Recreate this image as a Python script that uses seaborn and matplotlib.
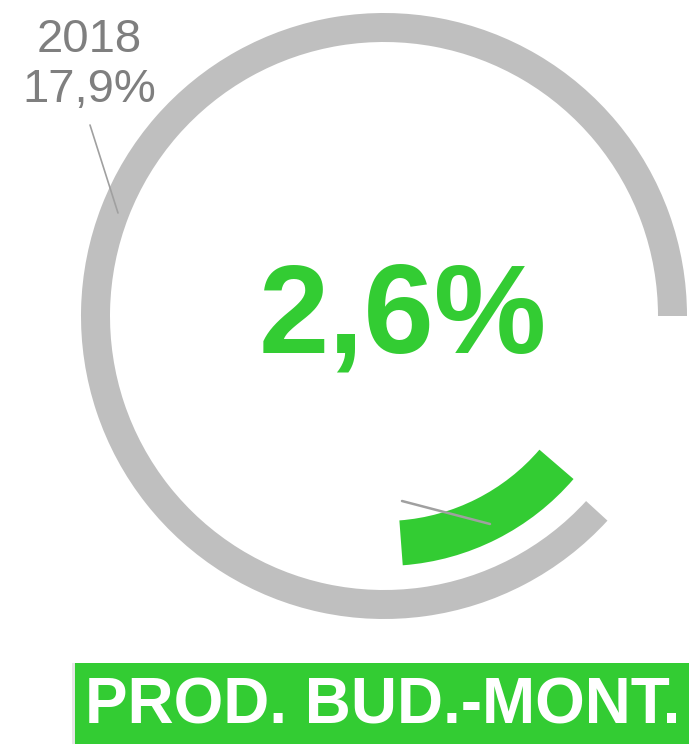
import matplotlib
matplotlib.use("Agg")
import matplotlib.pyplot as plt
import seaborn as sns
from matplotlib.patches import Rectangle

# arc shares (percent of full circle) and start angles
ring_share = [88.2, 11.8]      # gray ring (2018), rest is the gap
ring_start = 0
green_share = [12.5, 87.5]     # green arc (current), rest hidden
green_start = -85.7

label_2018 = "2018\n17,9%"
value_text = "2,6%"
category = "PROD. BUD.-MONT."

GREEN = "#33CC33"
GRAY = "#BFBFBF"
TEXT_GRAY = "#7F7F7F"

sns.set_style("white")
plt.rcParams['font.family'] = ['Liberation Sans', 'DejaVu Sans']

fig = plt.figure(figsize=(6.89, 7.44), dpi=100)
ax = fig.add_axes([0, 0, 1, 1])

center = (384, 428)
ax.pie(ring_share, colors=[GRAY, "none"], startangle=ring_start,
       counterclock=True, radius=303, center=center,
       wedgeprops=dict(width=29, linewidth=0))
ax.pie(green_share, colors=[GREEN, "none"], startangle=green_start,
       counterclock=True, radius=250, center=center,
       wedgeprops=dict(width=45, linewidth=0))

# leader lines
ax.plot([90, 118], [619, 531], color="#A0A0A0", lw=1.2)
ax.plot([402, 490], [243, 220], color="#A0A0A0", lw=1.8)

ax.text(89, 679, label_2018, ha="center", va="center", fontsize=34,
        color=TEXT_GRAY, linespacing=1.2)
ax.text(403, 425, value_text, ha="center", va="center", fontsize=91,
        fontweight="bold", color=GREEN)

# category box
ax.add_patch(Rectangle((72, 0), 617, 81, color="#E6E6E6", lw=0, zorder=2))
ax.add_patch(Rectangle((75, 0), 614, 81, color=GREEN, lw=0, zorder=3))
ax.text(383, 37, category, ha="center", va="center", fontsize=46,
        fontweight="bold", color="white", zorder=4)

ax.set_xlim(0, 689)
ax.set_ylim(0, 744)
ax.set_aspect("equal")
ax.axis("off")

fig.savefig("out.png", dpi=100)
